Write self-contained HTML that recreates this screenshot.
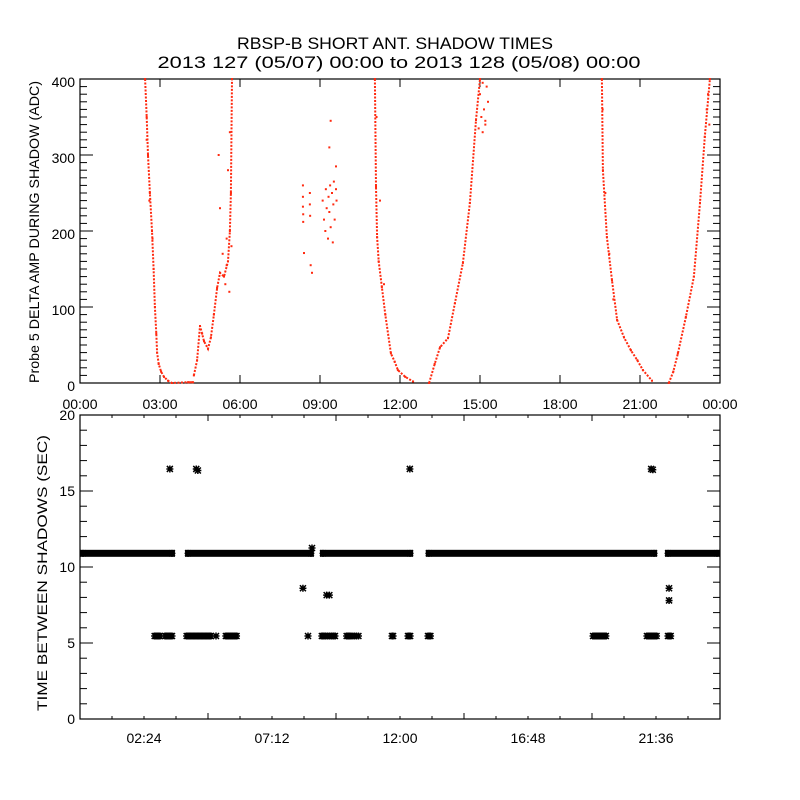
<!DOCTYPE html>
<html><head><meta charset="utf-8"><style>
html,body{margin:0;padding:0;background:#fff;}
svg{display:block;font-family:"Liberation Sans",sans-serif;}
</style></head><body>
<svg id="chart" width="800" height="800" viewBox="0 0 800 800" xmlns="http://www.w3.org/2000/svg">
<rect width="800" height="800" fill="#fff"/>
<text x="395" y="49" font-size="17" text-anchor="middle" textLength="316" lengthAdjust="spacingAndGlyphs">RBSP-B SHORT ANT. SHADOW TIMES</text>
<text x="399" y="68" font-size="17" text-anchor="middle" textLength="483" lengthAdjust="spacingAndGlyphs">2013 127 (05/07) 00:00 to 2013 128 (05/08) 00:00</text>
<g id="top"></g>
<g id="bot"></g>
</svg>
<script>
// ---- top panel data (hour, ADC) ----
const topXTicks = ["00:00","03:00","06:00","09:00","12:00","15:00","18:00","21:00","00:00"];
const topYTicks = [0,100,200,300,400];
const pass1Hours = [2.44,2.5,2.55,2.62,2.7,2.76,2.81,2.86,2.89,2.95,3.04,3.15,3.3,3.45,4.05,4.15,4.24];
const pass1Vals  = [400,350,300,250,200,150,100,65,40,25,15,8,3,0,1,1,1];
const rise1Hours = [4.27,4.39,4.5,4.58,4.65,4.8,4.91,5.02,5.14,5.25,5.4,5.55,5.62,5.66,5.7];
const rise1Vals  = [10,30,75,65,55,45,60,90,125,145,140,160,200,250,400];
const pass2Hours = [11.06,11.1,11.14,11.2,11.32,11.45,11.66,11.8,11.92,12.2,12.49];
const pass2Vals  = [400,258,192,160,126,90,39,28,17,8,2];
const rise2Hours = [13.09,13.3,13.5,13.8,14.06,14.36,14.62,14.85,15.0];
const rise2Vals  = [0,25,47,59,105,158,237,346,400];
const pass3Hours = [19.57,19.61,19.76,19.95,20.14,20.4,20.66,20.9,21.11,21.45];
const pass3Vals  = [400,280,192,135,83,60,43,30,17,3];
const rise3Hours = [22.08,22.25,22.42,22.72,23.02,23.25,23.43,23.62];
const rise3Vals  = [0,15,39,87,140,237,324,400];
const scatterHours = [8.36,8.36,8.36,8.37,8.37,8.4,8.62,8.62,8.63,8.65,8.7,9.1,9.15,9.2,9.22,9.25,9.3,9.32,9.35,9.38,9.4,9.45,9.48,9.5,9.52,9.55,9.6,9.62,9.4,9.35,9.6,
  5.2,5.25,5.35,5.45,5.5,5.55,5.6,5.62,5.68,5.5,
  15.0,15.05,15.1,15.15,15.2,15.25,15.3,14.95,15.1,15.2,
  2.5,2.6,2.72,11.12,11.25,11.4,19.6,19.7,19.85,20.0,23.5,23.55,23.6];
const scatterVals  = [260,245,232,222,212,171,250,235,220,155,145,240,215,200,255,230,190,245,225,260,205,250,185,235,265,215,255,240,345,310,285,
  300,230,170,130,190,280,120,330,180,155,
  380,350,395,360,340,390,370,335,330,345,
  320,240,190,350,240,130,360,250,170,110,360,380,340];

// ---- bottom panel data ----
const botXTicks = ["02:24","07:12","12:00","16:48","21:36"];
const botYTicks = [0,5,10,15,20];
const bandStart = [0,3.94,9.0,12.97,21.94];
const bandEnd   = [3.56,8.77,12.49,21.64,24.0];
const bandValue = 10.9;
const ptHours = [2.8,2.85,2.9,2.95,3.0,3.2,3.25,3.3,3.35,3.4,3.45,
  4.0,4.05,4.1,4.15,4.2,4.25,4.3,4.35,4.4,4.45,4.5,4.55,4.6,4.65,4.7,4.75,4.8,4.85,4.9, 5.1,
  5.47,5.52,5.57,5.62,5.67,5.72,5.77,5.82,5.87,
  8.55, 9.07,9.12,9.2,9.27,9.35,9.42,9.5,9.56, 10.0,10.06,10.12,10.2,10.28,10.36,10.44, 11.7,11.74, 12.3,12.34,12.38, 13.05,13.1,13.14,
  19.24,19.3,19.36,19.42,19.48,19.54,19.6,19.66,19.72, 21.26,21.32,21.38,21.44,21.5,21.56,21.62, 22.05,22.1,22.15,
  3.37,4.36,4.42,12.37,21.42,21.48, 8.36,9.25,9.35,8.7, 22.09,22.09];
const ptVals  = [5.46,5.46,5.46,5.46,5.46,5.46,5.46,5.46,5.46,5.46,5.46,
  5.46,5.46,5.46,5.46,5.46,5.46,5.46,5.46,5.46,5.46,5.46,5.46,5.46,5.46,5.46,5.46,5.46,5.46,5.46, 5.46,
  5.46,5.46,5.46,5.46,5.46,5.46,5.46,5.46,5.46,
  5.46, 5.46,5.46,5.46,5.46,5.46,5.46,5.46,5.46, 5.46,5.46,5.46,5.46,5.46,5.46,5.46, 5.46,5.46, 5.46,5.46,5.46, 5.46,5.46,5.46,
  5.46,5.46,5.46,5.46,5.46,5.46,5.46,5.46,5.46, 5.46,5.46,5.46,5.46,5.46,5.46,5.46, 5.46,5.46,5.46,
  16.45,16.45,16.35,16.45,16.45,16.4, 8.6,8.15,8.15,11.25, 8.6,7.8];

const NS="http://www.w3.org/2000/svg";
function mk(parent,tag,attrs){const e=document.createElementNS(NS,tag);for(const k in attrs)e.setAttribute(k,attrs[k]);parent.appendChild(e);return e;}

// top axes
const T={x0:80,x1:720,y0:383,y1:79,vmax:400};
const tx=h=>T.x0+h/24*(T.x1-T.x0);
const ty=v=>T.y0-v/T.vmax*(T.y0-T.y1);
const gT=document.getElementById('top');
const tf=mk(gT,'rect',{x:T.x0,y:T.y1,width:T.x1-T.x0,height:T.y0-T.y1,fill:'none',stroke:'#000','stroke-width':1.2});


topXTicks.forEach((lab,i)=>{
  const x=tx(i*3);
  mk(gT,'line',{x1:x,x2:x,y1:T.y0,y2:T.y0-8,stroke:'#000'});
  mk(gT,'line',{x1:x,x2:x,y1:T.y1,y2:T.y1+8,stroke:'#000'});
  const t=mk(gT,'text',{x:x,y:409,'font-size':14,'text-anchor':'middle'});
  t.textContent=lab;
  
  
});
for(let v=0;v<=400;v+=10){
  const y=ty(v);const L=(v%100===0)?13:7;
  mk(gT,'line',{x1:T.x0,x2:T.x0+L,y1:y,y2:y,stroke:'#000'});
  mk(gT,'line',{x1:T.x1,x2:T.x1-L,y1:y,y2:y,stroke:'#000'});
}
topYTicks.forEach(v=>{
  const t=mk(gT,'text',{x:75,y:ty(v)+8,'font-size':14,'text-anchor':'end'});
  t.textContent=v;
  
  
});
const yl=mk(gT,'text',{x:0,y:0,'font-size':14,'text-anchor':'middle',transform:'translate(39,232) rotate(-90)',textLength:302,lengthAdjust:'spacingAndGlyphs'});
yl.textContent='Probe 5 DELTA AMP DURING SHADOW (ADC)';



const series=[[pass1Hours,pass1Vals,'pass-1'],[rise1Hours,rise1Vals,'rise-1'],[pass2Hours,pass2Vals,'pass-2'],[rise2Hours,rise2Vals,'rise-2'],[pass3Hours,pass3Vals,'pass-3'],[rise3Hours,rise3Vals,'rise-3']];
series.forEach(([hs,vs,nm])=>{
  const pts=hs.map((h,i)=>tx(h).toFixed(1)+','+ty(vs[i]).toFixed(1)).join(' ');
  const pl=mk(gT,'polyline',{points:pts,fill:'none',stroke:'#ff2a10','stroke-width':2,'stroke-dasharray':'2 1.5'});
  
  
  hs.forEach((h,i)=>{
    const r=mk(gT,'rect',{x:tx(h)-1,y:ty(vs[i])-1,width:2,height:2,fill:'#ff2a10'});
    
    
  });
});
scatterHours.forEach((h,i)=>{
  const r=mk(gT,'rect',{x:tx(h)-1,y:ty(scatterVals[i])-1,width:2,height:2,fill:'#ff2a10'});
  
  
});

// bottom axes
const B={x0:80,x1:720,y0:719,y1:415,vmax:20};
const bx=h=>B.x0+h/24*(B.x1-B.x0);
const by=v=>B.y0-v/B.vmax*(B.y0-B.y1);
const gB=document.getElementById('bot');
const bf=mk(gB,'rect',{x:B.x0,y:B.y1,width:B.x1-B.x0,height:B.y0-B.y1,fill:'none',stroke:'#000','stroke-width':1.2});


for(let k=1;k<20;k++){
  const x=bx(k*1.2);const L=(k%4===0)?6:3;
  mk(gB,'line',{x1:x,x2:x,y1:B.y0,y2:B.y0-L,stroke:'#000'});
  mk(gB,'line',{x1:x,x2:x,y1:B.y1,y2:B.y1+L,stroke:'#000'});
}
botXTicks.forEach((lab,i)=>{
  const t=mk(gB,'text',{x:bx((i+0.5)*4.8),y:743,'font-size':14,'text-anchor':'middle'});
  t.textContent=lab;
  
  
});
for(let v=0;v<=20;v++){
  const y=by(v);const L=(v%5===0)?13:7;
  mk(gB,'line',{x1:B.x0,x2:B.x0+L,y1:y,y2:y,stroke:'#000'});
  mk(gB,'line',{x1:B.x1,x2:B.x1-L,y1:y,y2:y,stroke:'#000'});
}
botYTicks.forEach(v=>{
  const t=mk(gB,'text',{x:75,y:by(v)+5,'font-size':14,'text-anchor':'end'});
  t.textContent=v;
  
  
});
const yl2=mk(gB,'text',{x:0,y:0,'font-size':14,'text-anchor':'middle',transform:'translate(47,573) rotate(-90)',textLength:276,lengthAdjust:'spacingAndGlyphs'});
yl2.textContent='TIME BETWEEN SHADOWS (SEC)';



function star(g,cx,cy){
  const s=mk(g,'path',{d:`M${cx-3.5},${cy}h7M${cx},${cy-3.5}v7M${cx-3},${cy-3}l6,6M${cx+3},${cy-3}l-6,6`,stroke:'#000','stroke-width':1.5,fill:'none'});
  return s;
}
bandStart.forEach((s,i)=>{
  const x0=bx(s),x1=bx(bandEnd[i]);
  const r=mk(gB,'rect',{x:x0,y:by(bandValue)-3.5,width:x1-x0,height:7,fill:'#000'});
  
  
  const s1=star(gB,x0+3,by(bandValue));
  
  
  const s2=star(gB,x1-3,by(bandValue));
  
  
});
ptHours.forEach((h,i)=>{
  const s=star(gB,bx(h),by(ptVals[i]));
  
  
});
</script>
</body></html>
